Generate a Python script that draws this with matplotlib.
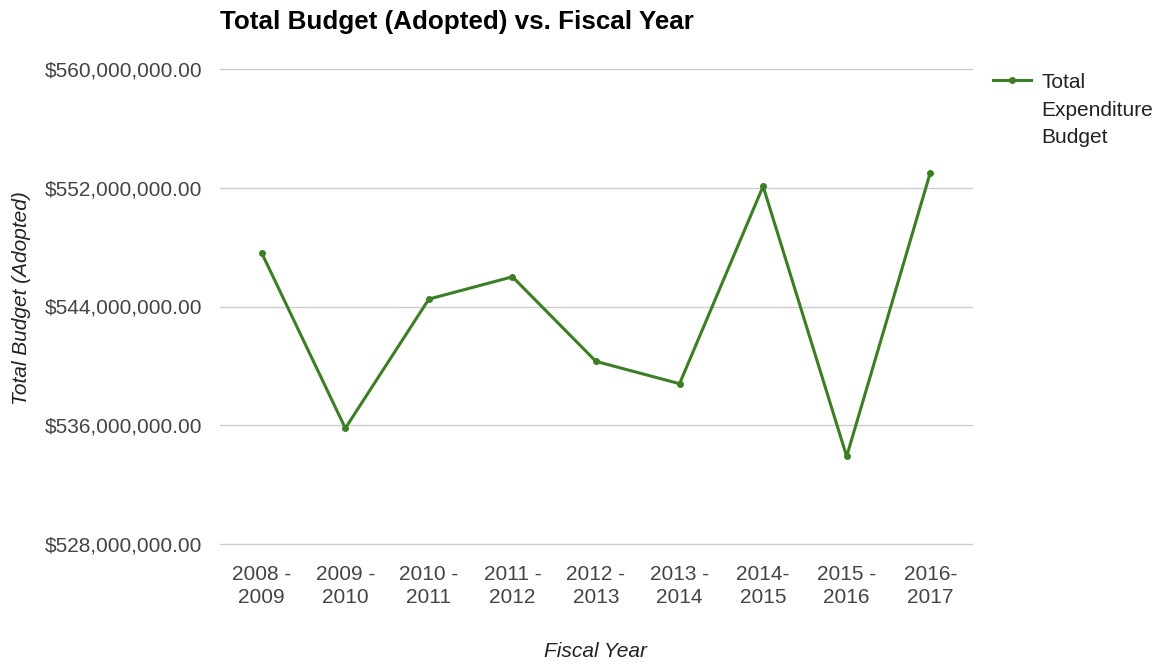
import matplotlib
matplotlib.use("Agg")
import matplotlib.pyplot as plt
from matplotlib.ticker import FuncFormatter
from matplotlib.lines import Line2D

plt.rcParams['font.family'] = ['Liberation Sans', 'DejaVu Sans']

categories = ["2008 -\n2009", "2009 -\n2010", "2010 -\n2011", "2011 -\n2012", "2012 -\n2013",
              "2013 -\n2014", "2014-\n2015", "2015 -\n2016", "2016-\n2017"]
budget = [547600000, 535800000, 544500000, 546000000, 540300000,
          538800000, 552100000, 533900000, 553000000]
yticks = [528000000, 536000000, 544000000, 552000000, 560000000]

color = "#3b7e23"

fig = plt.figure(figsize=(11.63, 6.65), dpi=100)
ax = fig.add_axes([220/1163, 121/665, 752/1163, 475/665])

x = list(range(len(categories)))
ax.plot(x, budget, color=color, lw=2.2, marker='o', ms=4, zorder=3)

ax.set_xlim(-0.5, len(categories) - 0.5)
ax.set_ylim(528000000, 560000000)
ax.set_yticks(yticks)
ax.yaxis.set_major_formatter(FuncFormatter(lambda v, p: "${:,.2f}".format(v)))
ax.set_xticks(x)
ax.set_xticklabels(categories)
for t in ax.get_xticklabels():
    t.set_linespacing(1.31)
ax.grid(axis='y', color='#cccccc', lw=1)
for gl in ax.get_ygridlines():
    gl.set_clip_on(False)
ax.set_axisbelow(True)
for s in ax.spines.values():
    s.set_visible(False)
ax.tick_params(length=0, labelsize=15, labelcolor='#444444')
ax.tick_params(axis='y', pad=13)
ax.tick_params(axis='x', pad=15)

ax.set_xlabel("Fiscal Year", fontsize=15, style='italic', color='#222222', labelpad=25)
ax.set_ylabel("Total Budget (Adopted)", fontsize=15, style='italic', color='#222222')
ax.yaxis.set_label_coords(-0.251, 0.518)

fig.text(220/1163, 1 - 22/665, "Total Budget (Adopted) vs. Fiscal Year", fontsize=18.7,
         fontweight='bold', color='black', ha='left', va='center')

handle = Line2D([0], [0], color=color, lw=2.2, marker='o', ms=4)
leg = fig.legend([handle], ["Total\nExpenditure\nBudget"], loc='upper left',
                 bbox_to_anchor=(993/1163, 1 - 73/665), frameon=False, fontsize=15,
                 handlelength=1.8, handletextpad=0.53, borderaxespad=0, borderpad=0)
for t in leg.get_texts():
    t.set_color('#222222')
    t.set_linespacing(1.58)
for col in leg._legend_handle_box.get_children():
    for item in col.get_children():
        item.align = "top"

fig.savefig("out.png", dpi=100)
